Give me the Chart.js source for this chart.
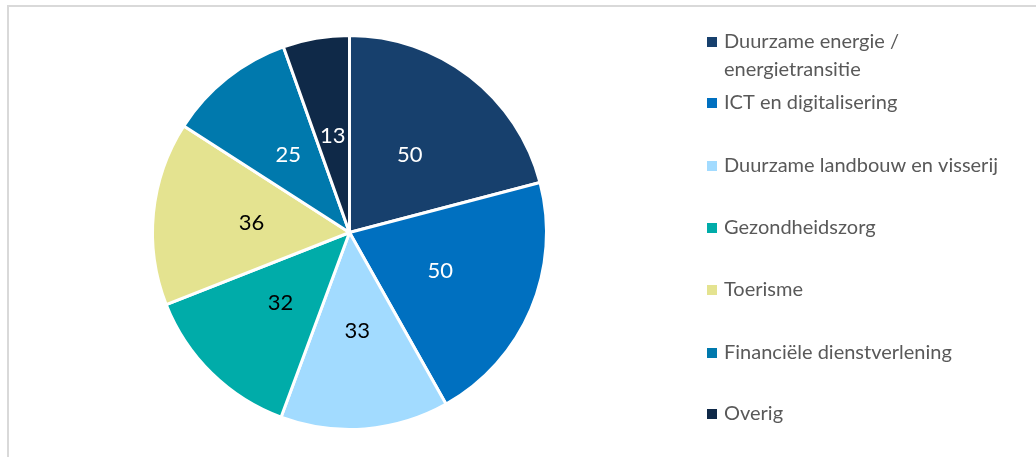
<!DOCTYPE html>
<html>
<head>
<meta charset="utf-8">
<script src="https://cdn.jsdelivr.net/npm/chart.js@4"></script>
<style>
  html, body { margin: 0; padding: 0; background: #fff; overflow: hidden; }
  #wrap { position: relative; width: 1036px; height: 457px; }
  #frame { position: absolute; left: 7px; top: 5px; width: 1200px; height: 600px; border: 2px solid #d9d9d9; box-sizing: border-box; }
  canvas { position: absolute; left: 0; top: 0; }
</style>
</head>
<body>
<div id="wrap">
  <div id="frame"></div>
  <canvas id="pieChart" width="1036" height="457"></canvas>
</div>
<script>
const categories = [
  ["Duurzame energie /", "energietransitie"],
  ["ICT en digitalisering"],
  ["Duurzame landbouw en visserij"],
  ["Gezondheidszorg"],
  ["Toerisme"],
  ["Financiële dienstverlening"],
  ["Overig"],
];
const values = [50, 50, 33, 32, 36, 25, 13];

const sliceColors = ["#17406d", "#0070c0", "#a2dbff", "#00aca9", "#e4e390", "#0079ad", "#0f2948"];
const valueColors = ["#fff", "#fff", "#000", "#000", "#000", "#fff", "#fff"];

const FONT = "Lato, 'Open Sans', sans-serif";

// value labels in the middle of each slice (like Excel's centre labels)
const sliceLabels = {
  id: "sliceLabels",
  afterDatasetsDraw(chart) {
    const ctx = chart.ctx;
    const meta = chart.getDatasetMeta(0);
    ctx.save();
    ctx.font = "22px " + FONT;
    ctx.textAlign = "center";
    ctx.textBaseline = "middle";
    meta.data.forEach((arc, i) => {
      const p = arc.tooltipPosition();
      ctx.fillStyle = valueColors[i];
      ctx.fillText(String(values[i]), p.x, p.y);
    });
    ctx.restore();
  },
};

// legend on the right, drawn by hand so the odd spacing can be kept
const sideLegend = {
  id: "sideLegend",
  afterDraw(chart) {
    const ctx = chart.ctx;
    const x = 707, textX = 724, lineH = 28;
    const rows = [42, 103, 166, 228, 290, 353, 414];
    ctx.save();
    ctx.font = "20px " + FONT;
    ctx.textBaseline = "middle";
    categories.forEach((lines, i) => {
      const y = rows[i];
      ctx.fillStyle = sliceColors[i];
      ctx.fillRect(x, y - 5, 10, 10);
      ctx.fillStyle = "#595959";
      lines.forEach((t, j) => ctx.fillText(t, textX, y + j * lineH));
    });
    ctx.restore();
  },
};

const ctx = document.getElementById("pieChart").getContext("2d");
new Chart(ctx, {
  type: "pie",
  data: {
    labels: categories.map(c => c.join(" ")),
    datasets: [{
      data: values,
      backgroundColor: sliceColors,
      borderColor: "#ffffff",
      borderWidth: 3,
      hoverOffset: 0,
    }],
  },
  options: {
    responsive: false,
    animation: false,
    layout: { padding: { left: 151, right: 488, top: 34, bottom: 26 } },
    plugins: {
      legend: { display: false },
      tooltip: { enabled: false },
    },
  },
  plugins: [sliceLabels, sideLegend],
});
</script>
</body>
</html>
